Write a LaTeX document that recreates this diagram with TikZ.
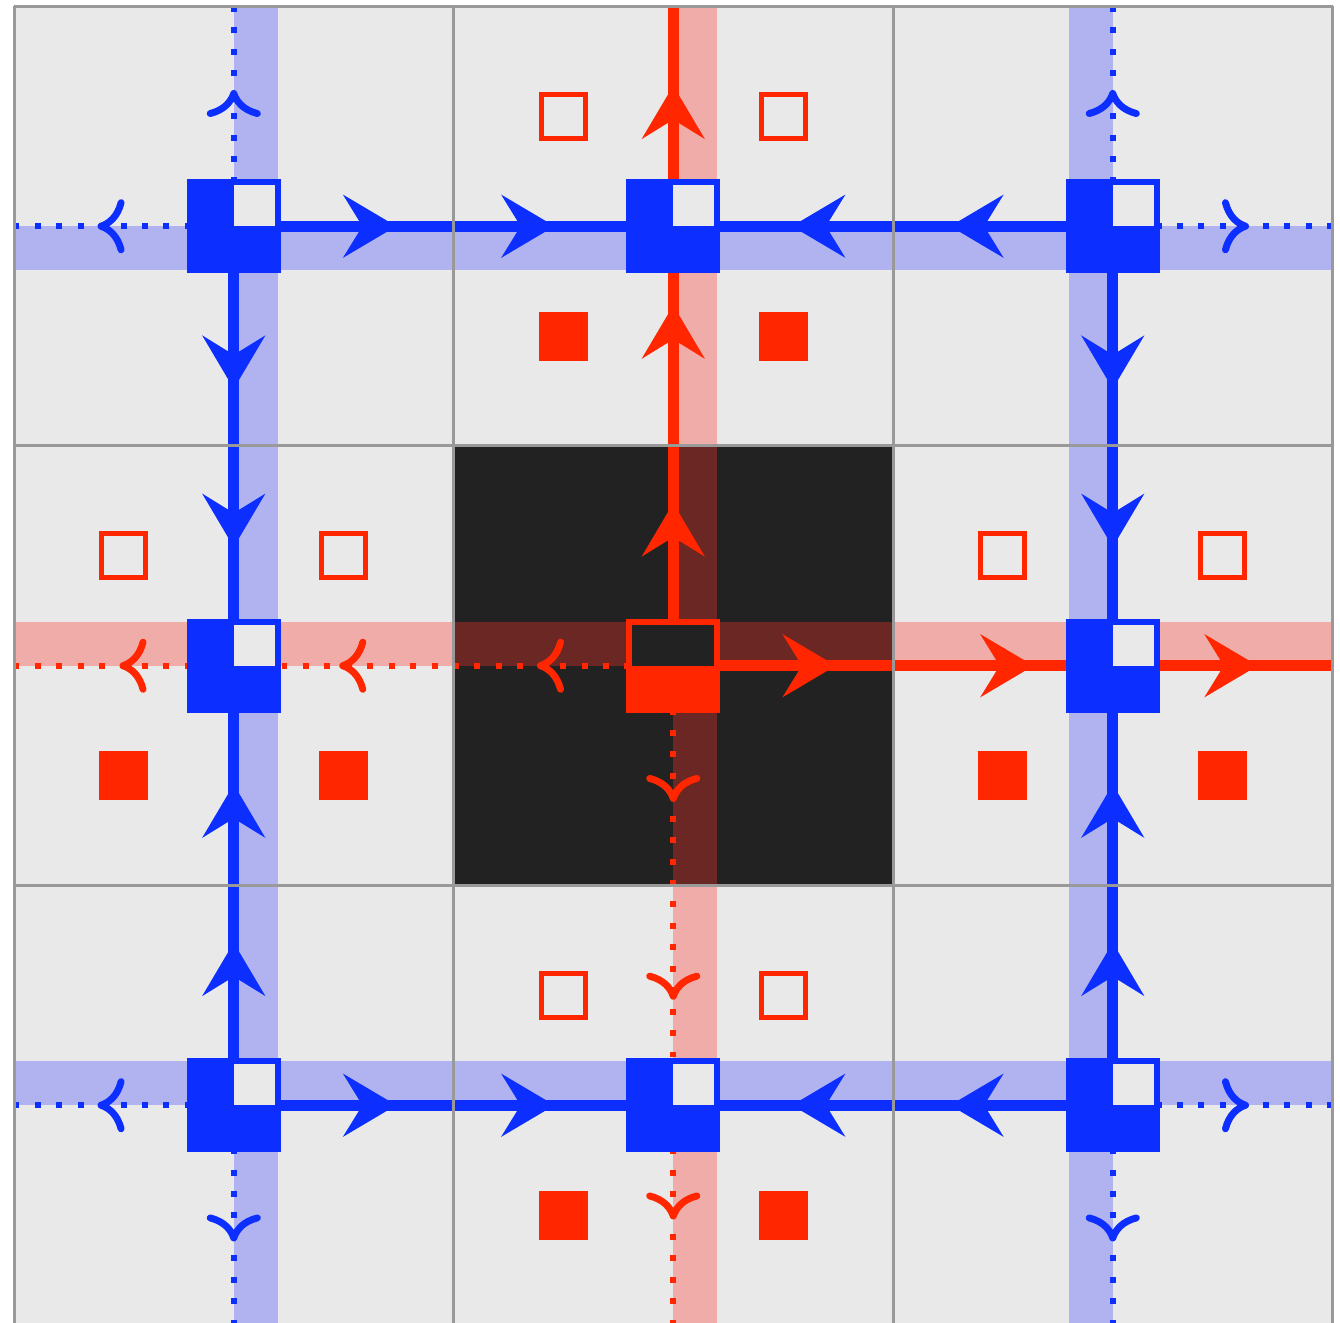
\documentclass[tikz,border=0pt]{standalone}
\usetikzlibrary{arrows.meta,decorations.markings}
\definecolor{qblue}{RGB}{12,46,255}
\definecolor{qred}{RGB}{255,38,0}
\definecolor{cellgray}{RGB}{233,233,233}
\definecolor{gridgray}{RGB}{153,153,153}
\definecolor{darkcell}{RGB}{34,34,34}
\definecolor{blueband}{RGB}{176,179,240}
\definecolor{redband}{RGB}{255,50,40}
\pgfdeclarelayer{bands}
\pgfdeclarelayer{wires}
\pgfsetlayers{bands,wires,main}

\begin{document}
\begin{tikzpicture}[x=4cm,y=4cm,
  qflow/.tip={Stealth[length=13.7pt,width=16.1pt,inset=4.9pt]},
  qbarb/.tip={Computer Modern Rightarrow[length=7pt,width=14pt,line width=1.8pt]},
  fwd/.style={postaction={decorate,decoration={markings,mark=at position #1 with {\arrow{qflow}}}}},
  owd/.style={postaction={decorate,decoration={markings,mark=at position #1 with {\arrow{qbarb}}}}},
  wire/.style={line width=2.85pt},
  dots/.style={line width=1.55pt,dash pattern=on 1.55pt off 4pt},
  vtx/.style={rectangle,draw=qblue,fill=qblue,line width=1.55pt,minimum size=22.8pt,inner sep=0pt,
    path picture={\fill[cellgray] (path picture bounding box.center) rectangle (path picture bounding box.north east);}},
  ctr/.style={rectangle,draw=qred,fill=darkcell,line width=1.55pt,minimum size=22.8pt,inner sep=0pt,
    path picture={\fill[qred] (path picture bounding box.south west) rectangle (path picture bounding box.east);}},
  hole/.style={rectangle,draw=qred,line width=1.3pt,minimum size=11.4pt,inner sep=0pt},
  plaq/.style={hole,fill=qred}]
  \useasboundingbox (-0.0319,0.0148) rectangle (3.0171,-2.9954);

  \begin{pgfonlayer}{bands}
    \fill[cellgray] (0,0) rectangle (3,-3);
    \fill[darkcell] (1,-1) rectangle (2,-2);
    \fill[blueband] (0,-0.5) rectangle (3,-0.6);
    \fill[blueband] (0,-2.4) rectangle (3,-2.5);
    \fill[blueband] (0.5,0) rectangle (0.6,-3);
    \fill[blueband] (2.4,0) rectangle (2.5,-3);
    \fill[redband,opacity=0.33] (1.5,0) rectangle (1.6,-3);
    \fill[redband,opacity=0.33] (0,-1.4) rectangle (3,-1.5);
  \end{pgfonlayer}

  \draw[gridgray,line width=0.78pt,xstep=4cm,ystep=4cm] (0,-3) grid (3,0);

  \node[vtx] (nw) at (0.5,-0.5) {};
  \node[vtx] (n) at (1.5,-0.5) {};
  \node[vtx] (ne) at (2.5,-0.5) {};
  \node[vtx] (w) at (0.5,-1.5) {};
  \node[ctr] (c) at (1.5,-1.5) {};
  \node[vtx] (e) at (2.5,-1.5) {};
  \node[vtx] (sw) at (0.5,-2.5) {};
  \node[vtx] (s) at (1.5,-2.5) {};
  \node[vtx] (se) at (2.5,-2.5) {};

  \coordinate (top1) at (0.5,0);
  \coordinate (top2) at (1.5,0);
  \coordinate (top3) at (2.5,0);
  \coordinate (left1) at (0,-0.5);
  \coordinate (left2) at (0,-1.5);
  \coordinate (left3) at (0,-2.5);
  \coordinate (right1) at (3,-0.5);
  \coordinate (right2) at (3,-1.5);
  \coordinate (right3) at (3,-2.5);
  \coordinate (bot1) at (0.5,-3);
  \coordinate (bot2) at (1.5,-3);
  \coordinate (bot3) at (2.5,-3);

  \node[hole] (p1) at (1.25,-0.25) {};
  \node[hole] (p2) at (1.75,-0.25) {};
  \node[plaq] (p3) at (1.25,-0.75) {};
  \node[plaq] (p4) at (1.75,-0.75) {};
  \node[hole] (p5) at (0.25,-1.25) {};
  \node[hole] (p6) at (0.75,-1.25) {};
  \node[plaq] (p7) at (0.25,-1.75) {};
  \node[plaq] (p8) at (0.75,-1.75) {};
  \node[hole] (p9) at (2.25,-1.25) {};
  \node[hole] (p10) at (2.75,-1.25) {};
  \node[plaq] (p11) at (2.25,-1.75) {};
  \node[plaq] (p12) at (2.75,-1.75) {};
  \node[hole] (p13) at (1.25,-2.25) {};
  \node[hole] (p14) at (1.75,-2.25) {};
  \node[plaq] (p15) at (1.25,-2.75) {};
  \node[plaq] (p16) at (1.75,-2.75) {};

  \begin{pgfonlayer}{wires}
    \draw[qblue,wire,fwd=0.37,fwd=0.73] (nw.center) -- (n.center);
    \draw[qblue,wire,fwd=0.37,fwd=0.73] (ne.center) -- (n.center);
    \draw[qblue,wire,fwd=0.37,fwd=0.73] (nw.center) -- (w.center);
    \draw[qblue,wire,fwd=0.37,fwd=0.73] (sw.center) -- (w.center);
    \draw[qblue,wire,fwd=0.37,fwd=0.73] (ne.center) -- (e.center);
    \draw[qblue,wire,fwd=0.37,fwd=0.73] (se.center) -- (e.center);
    \draw[qblue,wire,fwd=0.37,fwd=0.73] (sw.center) -- (s.center);
    \draw[qblue,wire,fwd=0.37,fwd=0.73] (se.center) -- (s.center);

    \draw[qblue,dots,owd=0.62] (nw.center) -- (top1);
    \draw[qblue,dots,owd=0.62] (nw.center) -- (left1);
    \draw[qblue,dots,owd=0.62] (ne.center) -- (top3);
    \draw[qblue,dots,owd=0.62] (ne.center) -- (right1);
    \draw[qblue,dots,owd=0.62] (sw.center) -- (left3);
    \draw[qblue,dots,owd=0.62] (sw.center) -- (bot1);
    \draw[qblue,dots,owd=0.62] (se.center) -- (right3);
    \draw[qblue,dots,owd=0.62] (se.center) -- (bot3);

    \draw[qred,wire,fwd=0.37,fwd=0.82] (c.center) -- (n.center);
    \draw[qred,wire,fwd=0.64] (n.center) -- (top2);
    \draw[qred,wire,fwd=0.37,fwd=0.82] (c.center) -- (e.center);
    \draw[qred,wire,fwd=0.66] (e.center) -- (right2);
    \draw[qred,dots,owd=0.31,owd=0.76] (c.center) -- (w.center);
    \draw[qred,dots,owd=0.52] (w.center) -- (left2);
    \draw[qred,dots,owd=0.31,owd=0.76] (c.center) -- (s.center);
    \draw[qred,dots,owd=0.52] (s.center) -- (bot2);
  \end{pgfonlayer}
\end{tikzpicture}
\end{document}
